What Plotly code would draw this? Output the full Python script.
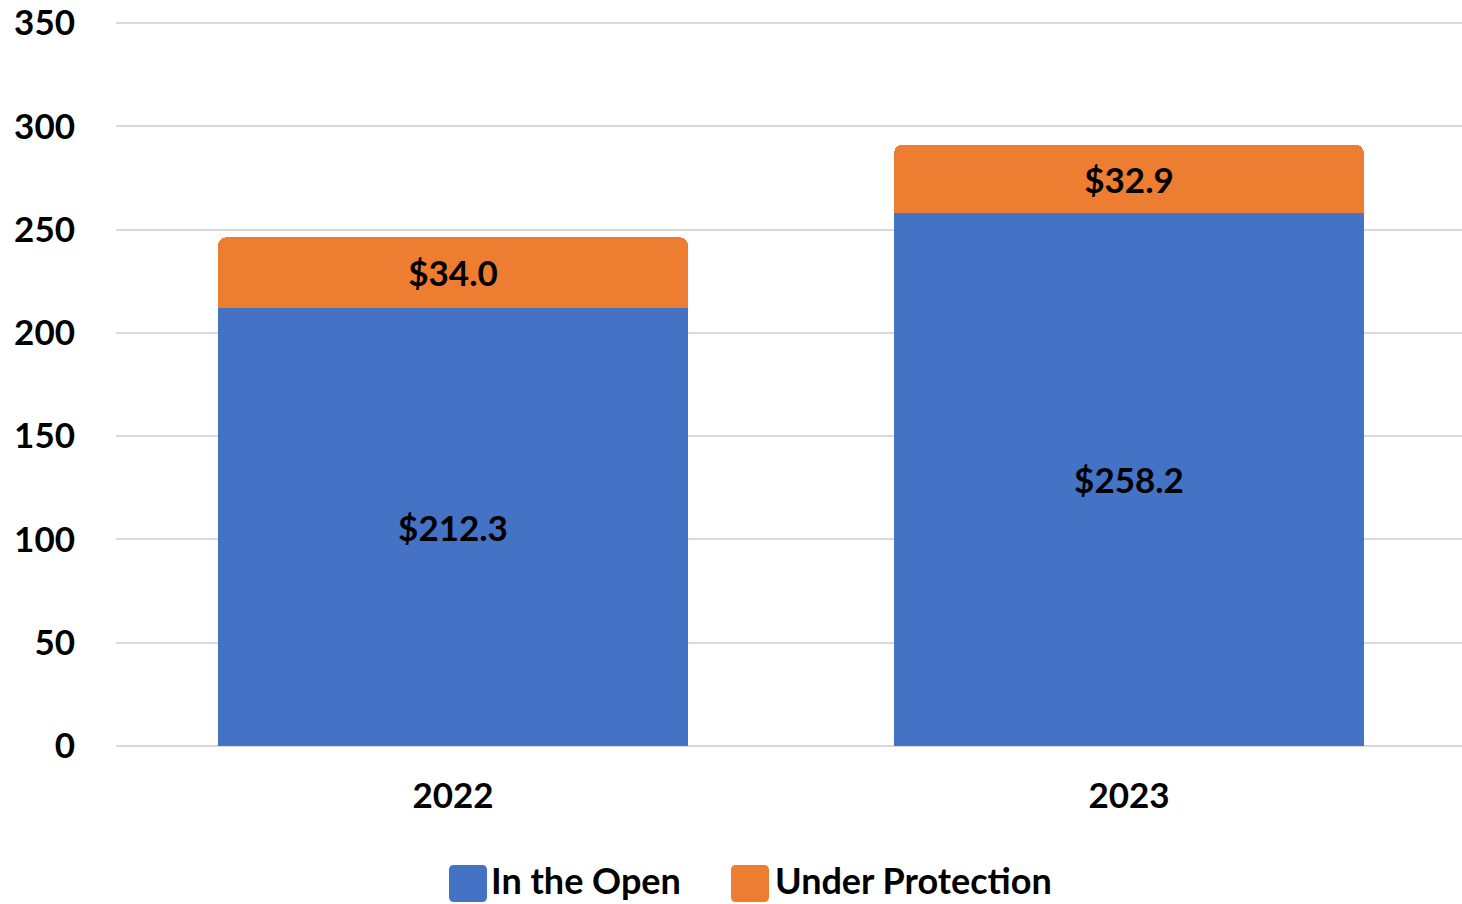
import plotly.graph_objects as go

years = ["2022", "2023"]
in_the_open = [212.3, 258.2]
under_protection = [34.0, 32.9]
y_ticks = [0, 50, 100, 150, 200, 250, 300, 350]
series_names = ["In the Open", "Under Protection"]
series_colors = ["#4472C4", "#ED7D31"]

FONT = "Lato"
SIZE = 35
fig = go.Figure()
for name, vals, col in zip(series_names, [in_the_open, under_protection], series_colors):
    fig.add_trace(go.Bar(
        x=years, y=vals, name=name, showlegend=False,
        marker=dict(color=col, line=dict(width=0)),
        texttemplate="$%{y:.1f}", textposition="inside", insidetextanchor="middle",
        textfont=dict(color="black", size=SIZE, family=FONT, weight="bold"),
    ))

# plot area geometry (pixels)
L, R, TOP, BOT = 116, 1462, 19, 746


def px_x(p):
    return (p - L) / (R - L)


def px_y(p):
    return (BOT - p) / (BOT - TOP)


def rounded_rect(x0, y0, x1, y1, r):
    # pixel coords -> paper path with rounded corners
    X = px_x
    Y = px_y
    return (f"M {X(x0 + r)} {Y(y0)} L {X(x1 - r)} {Y(y0)} Q {X(x1)} {Y(y0)} {X(x1)} {Y(y0 + r)} "
            f"L {X(x1)} {Y(y1 - r)} Q {X(x1)} {Y(y1)} {X(x1 - r)} {Y(y1)} "
            f"L {X(x0 + r)} {Y(y1)} Q {X(x0)} {Y(y1)} {X(x0)} {Y(y1 - r)} "
            f"L {X(x0)} {Y(y0 + r)} Q {X(x0)} {Y(y0)} {X(x0 + r)} {Y(y0)} Z")


# manual legend (large rounded swatches like the reference)
legend_items = [(449, 489), (731, 773)]
for (sx, tx), name, col in zip(legend_items, series_names, series_colors):
    fig.add_shape(type="path", xref="paper", yref="paper",
                  path=rounded_rect(sx, 865, sx + 38, 902, 5),
                  fillcolor=col, line=dict(width=0), layer="above")
    fig.add_annotation(xref="paper", yref="paper", x=px_x(tx), y=px_y(880),
                       xanchor="left", yanchor="middle", text=name, showarrow=False,
                       font=dict(size=36, family=FONT, weight="bold", color="black"))

fig.update_layout(
    barmode="stack", bargap=0.305, barcornerradius=8,
    width=1462, height=904,
    margin=dict(l=L, r=1462 - R, t=TOP, b=904 - BOT, autoexpand=False),
    plot_bgcolor="white", paper_bgcolor="white",
    font=dict(family=FONT, size=SIZE, color="black", weight="bold"),
    showlegend=False,
    xaxis=dict(range=[-0.4985, 1.4926], showgrid=False, showline=False, ticks="",
               ticklabelstandoff=26, tickfont=dict(size=SIZE), automargin=False),
    yaxis=dict(range=[0, 352], tickvals=y_ticks, showgrid=True, gridcolor="#D9D9D9",
               gridwidth=2, zeroline=True, zerolinecolor="#D9D9D9", zerolinewidth=2,
               ticks="", ticklabelstandoff=40, tickfont=dict(size=SIZE), automargin=False),
)
fig.write_html("out.html", config={"displayModeBar": False},
               post_script="document.body.style.margin='0';")
